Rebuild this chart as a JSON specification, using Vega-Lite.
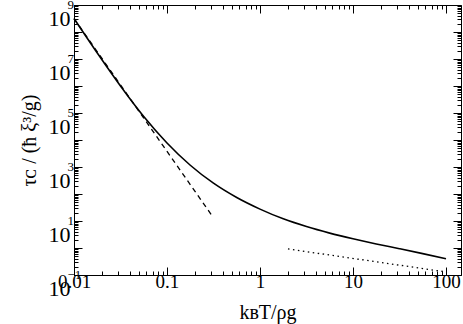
{
  "$schema": "https://vega.github.io/schema/vega-lite/v6.json",
  "width": 387,
  "height": 270,
  "autosize": {"type": "none"},
  "padding": {"left": 74, "top": 5, "right": 2, "bottom": 49},
  "background": "white",
  "config": {
    "view": {"stroke": "black", "strokeWidth": 1},
    "axis": {
      "domainColor": "black",
      "tickColor": "black",
      "tickWidth": 1,
      "grid": false,
      "labelFont": "Liberation Serif, DejaVu Serif",
      "labelFontSize": 19,
      "labelColor": "black",
      "labelFlush": false,
      "labelOverlap": false,
      "labelBound": false,
      "titleFont": "Liberation Serif, DejaVu Serif",
      "titleFontSize": 20,
      "titleFontWeight": "normal",
      "titleColor": "black"
    }
  },
  "datasets": {
    "curves": [
      {"series": "solid", "x": 0.01, "y": 316000000},
      {"series": "solid", "x": 0.0178, "y": 16600000},
      {"series": "solid", "x": 0.0316, "y": 1000000},
      {"series": "solid", "x": 0.0562, "y": 74000},
      {"series": "solid", "x": 0.1, "y": 7760},
      {"series": "solid", "x": 0.178, "y": 1160},
      {"series": "solid", "x": 0.316, "y": 251},
      {"series": "solid", "x": 0.562, "y": 74},
      {"series": "solid", "x": 1, "y": 27.5},
      {"series": "solid", "x": 1.78, "y": 12.0},
      {"series": "solid", "x": 3.16, "y": 6.2},
      {"series": "solid", "x": 5.62, "y": 3.55},
      {"series": "solid", "x": 10, "y": 2.19},
      {"series": "solid", "x": 17.8, "y": 1.41},
      {"series": "solid", "x": 31.6, "y": 0.94},
      {"series": "solid", "x": 56.2, "y": 0.62},
      {"series": "solid", "x": 100, "y": 0.40},
      {"series": "dashed", "x": 0.01, "y": 316000000},
      {"series": "dashed", "x": 0.3, "y": 17},
      {"series": "dotted", "x": 2, "y": 0.92},
      {"series": "dotted", "x": 100, "y": 0.13}
    ]
  },
  "layer": [
    {
      "data": {"name": "curves"},
      "transform": [{"filter": "datum.series === 'solid'"}],
      "mark": {"type": "line", "color": "black", "strokeWidth": 1.6, "interpolate": "monotone"},
      "encoding": {
        "x": {
          "field": "x", "type": "quantitative",
          "scale": {"type": "log", "domain": [0.01, 145], "nice": false},
          "axis": {
            "orient": "bottom",
            "title": "kʙT/ρg",
            "titlePadding": 7,
            "values": [0.01,0.02,0.03,0.04,0.05,0.06,0.07,0.08,0.09,0.1,0.2,0.3,0.4,0.5,0.6,0.7,0.8,0.9,1,2,3,4,5,6,7,8,9,10,20,30,40,50,60,70,80,90,100],
            "tickSize": {"condition": {"test": "abs(log(datum.value)/LN10 - round(log(datum.value)/LN10)) < 1e-6", "value": -8}, "value": -4},
            "labelPadding": 5,
            "labelExpr": "abs(log(datum.value)/LN10 - round(log(datum.value)/LN10)) < 1e-6 ? toString(datum.value) : ''"
          }
        },
        "y": {
          "field": "y", "type": "quantitative",
          "scale": {"type": "log", "domain": [0.1, 1000000000], "nice": false},
          "axis": {
            "orient": "left",
            "title": "τᴄ / (ħ ξ³/g)",
            "titlePadding": 9,
            "values": [0.1,0.2,0.3,0.4,0.5,0.6,0.7,0.8,0.9,1,2,3,4,5,6,7,8,9,10,20,30,40,50,60,70,80,90,100,200,300,400,500,600,700,800,900,1000,2000,3000,4000,5000,6000,7000,8000,9000,10000,20000,30000,40000,50000,60000,70000,80000,90000,100000,200000,300000,400000,500000,600000,700000,800000,900000,1000000,2000000,3000000,4000000,5000000,6000000,7000000,8000000,9000000,10000000,20000000,30000000,40000000,50000000,60000000,70000000,80000000,90000000,100000000,200000000,300000000,400000000,500000000,600000000,700000000,800000000,900000000,1000000000],
            "tickSize": {"condition": {"test": "abs(log(datum.value)/LN10 - round(log(datum.value)/LN10)) < 1e-6", "value": -8}, "value": -4},
            "labelPadding": 12,
            "labelOffset": 13,
            "labelFontSize": 22,
            "labelExpr": "abs(log(datum.value)/LN10 - round(log(datum.value)/LN10)) < 1e-6 && abs(round(log(datum.value)/LN10) % 2) == 1 ? '10' : ''"
          }
        }
      }
    },
    {
      "data": {"name": "curves"},
      "transform": [{"filter": "datum.series === 'dashed'"}],
      "mark": {"type": "line", "color": "black", "strokeWidth": 1.3, "strokeDash": [5, 4]},
      "encoding": {
        "x": {
          "field": "x", "type": "quantitative",
          "scale": {"type": "log", "domain": [0.01, 145], "nice": false},
          "axis": {
            "orient": "top",
            "title": null,
            "domain": false,
            "values": [0.01,0.02,0.03,0.04,0.05,0.06,0.07,0.08,0.09,0.1,0.2,0.3,0.4,0.5,0.6,0.7,0.8,0.9,1,2,3,4,5,6,7,8,9,10,20,30,40,50,60,70,80,90,100],
            "tickSize": {"condition": {"test": "abs(log(datum.value)/LN10 - round(log(datum.value)/LN10)) < 1e-6", "value": -8}, "value": -4},
            "labels": false
          }
        },
        "y": {
          "field": "y", "type": "quantitative",
          "scale": {"type": "log", "domain": [0.1, 1000000000], "nice": false},
          "axis": {
            "orient": "right",
            "title": null,
            "domain": false,
            "values": [0.1,0.2,0.3,0.4,0.5,0.6,0.7,0.8,0.9,1,2,3,4,5,6,7,8,9,10,20,30,40,50,60,70,80,90,100,200,300,400,500,600,700,800,900,1000,2000,3000,4000,5000,6000,7000,8000,9000,10000,20000,30000,40000,50000,60000,70000,80000,90000,100000,200000,300000,400000,500000,600000,700000,800000,900000,1000000,2000000,3000000,4000000,5000000,6000000,7000000,8000000,9000000,10000000,20000000,30000000,40000000,50000000,60000000,70000000,80000000,90000000,100000000,200000000,300000000,400000000,500000000,600000000,700000000,800000000,900000000,1000000000],
            "tickSize": {"condition": {"test": "abs(log(datum.value)/LN10 - round(log(datum.value)/LN10)) < 1e-6", "value": -8}, "value": -4},
            "labels": false
          }
        }
      }
    },
    {
      "data": {"name": "curves"},
      "transform": [{"filter": "datum.series === 'dotted'"}],
      "mark": {"type": "line", "color": "black", "strokeWidth": 1.3, "strokeDash": [1.5, 3.5]},
      "encoding": {
        "x": {"field": "x", "type": "quantitative", "scale": {"type": "log", "domain": [0.01, 145], "nice": false}, "axis": null},
        "y": {
          "field": "y", "type": "quantitative",
          "scale": {"type": "log", "domain": [0.1, 1000000000], "nice": false},
          "axis": {
            "orient": "left",
            "title": null,
            "domain": false,
            "ticks": false,
            "values": [0.1, 10, 1000, 100000, 10000000, 1000000000],
            "labelAlign": "left",
            "labelPadding": 7,
            "labelOffset": -1,
            "labelFontSize": 13,
            "labelExpr": "format(round(log(datum.value)/LN10), 'd')"
          }
        }
      }
    }
  ],
  "resolve": {"axis": {"x": "independent", "y": "independent"}}
}
